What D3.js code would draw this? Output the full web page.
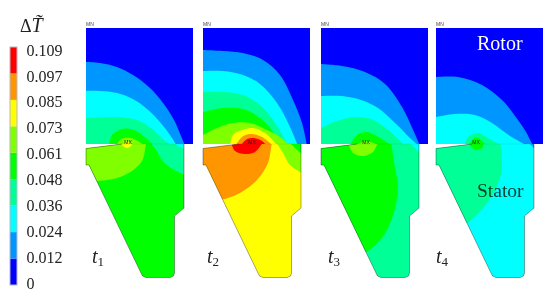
<!DOCTYPE html>
<html>
<head>
<meta charset="utf-8">
<script src="https://d3js.org/d3.v7.min.js"></script>
<style>
  html, body { margin: 0; padding: 0; background: #fff; }
  svg { display: block; filter: blur(0.5px); }
  text { font-family: "Liberation Serif", serif; }
</style>
</head>
<body>
<script>
// colour bar
var tickValues = [0, 0.012, 0.024, 0.036, 0.048, 0.061, 0.073, 0.085, 0.097, 0.109];
var bandColors = ["#0000ff", "#0096ff", "#00ffff", "#00ff96", "#00ff00", "#80ff00", "#ffff00", "#ff9600", "#ff0000"];

// time steps
var steps = ["1", "2", "3", "4"];

// contours, in section units. first number is a band index
var t1Rotor = [
  [1, [[0,34],[14,35],[31,39],[47,47],[64,60],[77,75],[88,92],[95,108],[99,118]]],
  [2, [[0,63],[14,63],[31,65],[47,71],[61,81],[74,94],[84,107],[91,118]]],
  [3, [[0,90],[31,89],[51,92],[65,100],[78,112],[86,118]]],
  [4, [[23,117],[26,107],[36,101],[48,102],[60,110],[68,118]]],
  [5, [[31,117],[35,111],[45,110],[58,117]]],
  [6, [[38,117],[41,113],[45,117]]]
];
var t1Stator = [
  [4, [[-5,110],[105,110],[105,255],[-5,255]]],
  [3, [[64,114],[70,122],[76,132],[85,140],[99,147]], [[105,150],[105,110]]],
  [2, [[87,114],[92,118],[99,121]], [[105,122],[105,110]]],
  [5, [[60,114],[59,122],[56,133],[46,143],[31,150],[12,153]], [[-5,155],[-5,110]]],
  [6, [[34,114],[37,118],[41,120],[45,118],[47,114]]]
];

var t2Rotor = [
  [1, [[0,22],[20,23],[40,25],[60,32],[77,47],[90,72],[99,95],[104,118]]],
  [2, [[0,43],[20,43],[40,47],[57,56],[74,75],[87,99],[95,118]]],
  [3, [[0,64],[20,64],[40,67],[57,77],[70,92],[80,108],[85,118]]],
  [4, [[0,84],[20,80],[40,81],[57,90],[70,104],[77,118]]],
  [5, [[0,107],[14,100],[30,95],[47,95],[64,102],[77,109],[87,118]]],
  [6, [[27,117],[30,107],[39,102],[50,100],[62,105],[74,117]]],
  [7, [[33,117],[39,109],[47,106],[59,109],[69,117]]],
  [8, [[38,117],[44,111],[51,110],[59,113],[63,117]]]
];
var t2Stator = [
  [6, [[-5,110],[105,110],[105,255],[-5,255]]],
  [7, [[69,114],[68,120],[65,135],[54,152],[37,165],[22,171]], [[-5,175],[-5,110]]],
  [8, [[28,114],[32,123],[42,126],[52,124],[60,114]]],
  [5, [[73,114],[80,125],[87,137],[99,145]], [[105,148],[105,110]]],
  [4, [[86,114],[92,120],[99,126]], [[105,128],[105,110]]]
];

var t3Rotor = [
  [1, [[0,36],[21,38],[44,44],[64,56],[81,79],[93,104],[99,118]]],
  [2, [[0,68],[21,68],[40,72],[57,80],[74,95],[90,111],[98,118]]],
  [3, [[0,100],[16,93],[33,89],[50,91],[62,98],[76,110],[84,118]]],
  [4, [[29,117],[36,107],[46,104],[59,110],[71,118]]],
  [5, [[36,117],[44,113],[57,117]]]
];
var t3Stator = [
  [3, [[-5,110],[105,110],[105,255],[-5,255]]],
  [4, [[70,114],[74,140],[77,160],[72,187],[61,210],[46,224]], [[-5,228],[-5,110]]],
  [5, [[27,114],[32,125],[42,128],[52,124],[57,114]]],
  [2, [[88,114],[94,120],[99,126]], [[105,128],[105,110]]]
];

var t4Rotor = [
  [1, [[0,49],[22,49],[46,57],[66,72],[79,88],[90,104],[97,118]]],
  [2, [[0,89],[19,86],[39,87],[56,95],[74,108],[92,118]]],
  [3, [[29,117],[32,109],[42,105],[52,110],[64,117]]],
  [4, [[33,117],[37,111],[42,110],[50,117]]]
];
var t4Stator = [
  [2, [[-5,110],[105,110],[105,255],[-5,255]]],
  [3, [[64,114],[66,130],[64,150],[52,174],[32,195]], [[-5,198],[-5,110]]],
  [4, [[32,114],[36,120],[41,122],[46,120],[48,114]]],
  [1, [[92,114],[96,118],[100,122]], [[105,122],[105,110]]]
];

var rotorSets = [t1Rotor, t2Rotor, t3Rotor, t4Rotor];
var statorSets = [t1Stator, t2Stator, t3Stator, t4Stator];

// section outline of the parts
var rotorOutline = [[0,0],[107,0],[107,116],[0,116]];
var statorOutline = [[36,116],[0,120.5],[0,137],[3,137],[55,245],[56.5,248],[60,249.5],[84,249.5],[87.5,248],[88.5,245],[88.5,188],[98,180],[98,116]];
var statorSeam = [[36,116],[98,116]];

// where the MX marker sits in each step
var maxMarks = [[42,114],[49,114],[45,114],[40,114]];

var width = 550, height = 298;
var panelLeft = [86, 203, 321, 436];
var stepLabelX = [92, 207, 328, 436];

var svg = d3.select("body").append("svg").attr("width", width).attr("height", height);

// colour bar
var barY = d3.scalePoint().domain(tickValues).range([285, 47]);
var labelY = d3.scalePoint().domain(tickValues).range([283, 50]);

svg.append("g").selectAll("rect").data(bandColors).enter().append("rect")
  .attr("x", 10)
  .attr("width", 7)
  .attr("y", function(d, i) { return barY(tickValues[i + 1]); })
  .attr("height", function(d, i) { return barY(tickValues[i]) - barY(tickValues[i + 1]); })
  .attr("fill", function(d) { return d; });

svg.append("rect").attr("x", 10).attr("y", 47).attr("width", 7).attr("height", 238)
  .attr("fill", "none").attr("stroke", "#b8b8c8").attr("stroke-width", 1);

var labelAxis = d3.axisRight(labelY).tickSize(0).tickPadding(0)
  .tickFormat(function(d) { return String(d); });
var axisG = svg.append("g").attr("transform", "translate(26.5,0)").call(labelAxis);
axisG.select(".domain").remove();
axisG.selectAll("text").attr("font-size", 16).attr("fill", "#222")
  .style("font-family", '"Liberation Serif", serif');

// title, delta T with a combining tilde
var title = svg.append("text").attr("x", 20).attr("y", 32).attr("font-size", 18).attr("fill", "#222");
title.append("tspan").text("\u0394");
title.append("tspan").attr("font-size", 20).attr("font-style", "italic").text("T\u0303");

// panels
var y = d3.scaleLinear().domain([0, 250]).range([28, 278]);
var defs = svg.append("defs");

steps.forEach(function(step, p) {
  var x = d3.scaleLinear().domain([0, 107]).range([panelLeft[p], panelLeft[p] + 107]);

  var smooth = d3.line().x(function(d) { return x(d[0]); }).y(function(d) { return y(d[1]); })
    .curve(d3.curveCatmullRom.alpha(0.5));
  var straight = d3.line().x(function(d) { return x(d[0]); }).y(function(d) { return y(d[1]); });

  function addClip(id, pts) {
    defs.append("clipPath").attr("id", id).append("path").attr("d", straight(pts) + "Z");
  }
  addClip("rotor" + p, rotorOutline);
  addClip("stator" + p, statorOutline);

  function contourPath(layer, defaultClose) {
    var closing = layer[2] || defaultClose;
    if (layer[1].length == 4 && layer[1][0][0] == -5) return straight(layer[1]) + "Z"; // plain base fill
    return smooth(layer[1]) + (closing ? "L" + straight(closing).slice(1) : "") + "Z";
  }

  var rotor = svg.append("g").attr("clip-path", "url(#rotor" + p + ")");
  rotor.append("path").attr("d", straight(rotorOutline) + "Z").attr("fill", bandColors[0]);
  rotor.selectAll("path.band").data(rotorSets[p]).enter().append("path").attr("class", "band")
    .attr("d", function(d) { return contourPath(d, [[-5, 120]]); })
    .attr("fill", function(d) { return bandColors[d[0]]; });

  var stator = svg.append("g").attr("clip-path", "url(#stator" + p + ")");
  stator.selectAll("path.band").data(statorSets[p]).enter().append("path").attr("class", "band")
    .attr("d", function(d) { return contourPath(d, null); })
    .attr("fill", function(d) { return bandColors[d[0]]; });

  svg.append("path").attr("d", straight(statorOutline))
    .attr("fill", "none").attr("stroke", "#000").attr("stroke-opacity", 0.38).attr("stroke-width", 0.9);
  svg.append("path").attr("d", straight(statorSeam))
    .attr("fill", "none").attr("stroke", "#000").attr("stroke-opacity", 0.08).attr("stroke-width", 0.9);

  // MN at the corner, MX at the hot spot
  svg.append("text").attr("x", x(0)).attr("y", y(-2)).attr("font-size", 5).attr("fill", "#444")
    .style("font-family", "'Liberation Sans', sans-serif").text("MN");
  svg.append("text").attr("x", x(maxMarks[p][0])).attr("y", y(maxMarks[p][1]) + 1.5)
    .attr("text-anchor", "middle").attr("font-size", 5).attr("fill", "#222")
    .style("font-family", "'Liberation Sans', sans-serif").text("MX");

  // t1 .. t4
  var lab = svg.append("text").attr("x", stepLabelX[p]).attr("y", 263).attr("font-size", 20)
    .attr("fill", "#222").attr("font-style", "italic");
  lab.append("tspan").text("t");
  lab.append("tspan").attr("dy", 3).attr("font-size", 13).attr("font-style", "normal").text(step);
});

svg.append("text").attr("x", 477).attr("y", 50).attr("font-size", 20).attr("fill", "#fff").text("Rotor");
svg.append("text").attr("x", 477).attr("y", 197).attr("font-size", 19.5).attr("fill", "#063c30").text("Stator");
</script>
</body>
</html>
